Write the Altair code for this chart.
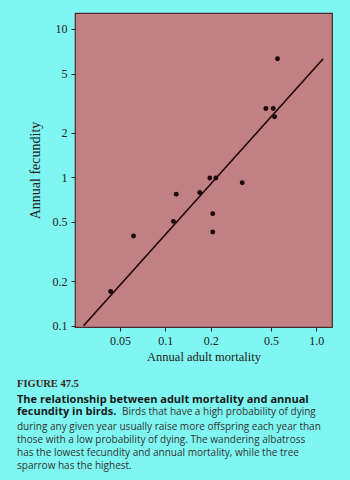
import altair as alt
import pandas as pd

# Data (log-log axes)
mortality = [0.553, 0.463, 0.518, 0.529, 0.197, 0.216, 0.323, 0.118, 0.169,
             0.206, 0.113, 0.0615, 0.206, 0.0434]
fecundity = [6.29, 2.91, 2.91, 2.56, 0.99, 0.99, 0.92, 0.77, 0.79,
             0.569, 0.505, 0.402, 0.428, 0.170]

fit_x = [0.0287, 1.11]
fit_y = [0.1, 6.29]

x_ticks = [0.05, 0.1, 0.2, 0.5, 1.0]
y_ticks = [0.1, 0.2, 0.5, 1, 2, 5, 10]

caption_head = "FIGURE 47.5"
caption_bold1 = "The relationship between adult mortality and annual"
caption_bold2 = "fecundity in birds."
caption_line2 = "Birds that have a high probability of dying"
caption_rest = ["during any given year usually raise more offspring each year than",
                "those with a low probability of dying. The wandering albatross",
                "has the lowest fecundity and annual mortality, while the tree",
                "sparrow has the highest."]

pts = pd.DataFrame({"mortality": mortality, "fecundity": fecundity})
fit = pd.DataFrame({"mortality": fit_x, "fecundity": fit_y})

SERIF = "Liberation Serif"
SANS = "Open Sans"

xscale = alt.Scale(type="log", domain=[0.0252, 1.27], nice=False)
yscale = alt.Scale(type="log", domain=[0.098, 12.8], nice=False)

xaxis = alt.Axis(values=x_ticks, title="Annual adult mortality",
                 labelExpr="datum.value == 1 ? '1.0' : format(datum.value, '~g')",
                 grid=False, tickSize=4, labelPadding=4, titlePadding=4,
                 domain=False, tickColor="#222", labelColor="#222",
                 titleColor="#222", labelFont=SERIF, titleFont=SERIF,
                 labelFontSize=12, titleFontSize=12.5, titleFontWeight="normal")
yaxis = alt.Axis(values=y_ticks, title="Annual fecundity",
                 labelExpr="format(datum.value, '~g')",
                 grid=False, tickSize=4, labelPadding=4, titlePadding=10,
                 domain=False, tickColor="#222", labelColor="#222",
                 titleColor="#222", labelFont=SERIF, titleFont=SERIF,
                 labelFontSize=12, titleFontSize=14, titleFontWeight="normal")

points = alt.Chart(pts).mark_circle(size=24, color="#1a0808", opacity=1).encode(
    x=alt.X("mortality:Q", scale=xscale, axis=xaxis),
    y=alt.Y("fecundity:Q", scale=yscale, axis=yaxis),
)

line = alt.Chart(fit).mark_line(color="#220606", strokeWidth=1.6).encode(
    x=alt.X("mortality:Q", scale=xscale),
    y=alt.Y("fecundity:Q", scale=yscale),
)

one = alt.Data(values=[{"a": 1}])

head = alt.Chart(one).mark_text(
    text=caption_head, font=SERIF, fontSize=10.5, fontWeight="bold",
    color="#3a2424", align="left", baseline="alphabetic"
).encode(x=alt.value(-58), y=alt.value(374.3))

bold1 = alt.Chart(one).mark_text(
    text=caption_bold1, font=SANS, fontSize=11, fontWeight="bold",
    color="#1a1a1a", align="left", baseline="alphabetic"
).encode(x=alt.value(-58), y=alt.value(389.8))

bold2 = alt.Chart(one).mark_text(
    text=caption_bold2, font=SANS, fontSize=11, fontWeight="bold",
    color="#1a1a1a", align="left", baseline="alphabetic"
).encode(x=alt.value(-58), y=alt.value(402.3))

l2 = alt.Chart(one).mark_text(
    text=caption_line2, font=SANS, fontSize=10,
    color="#333333", align="left", baseline="alphabetic"
).encode(x=alt.value(47), y=alt.value(402.3))

rest = alt.Chart(one).mark_text(
    text=caption_rest, font=SANS, fontSize=10,
    color="#333333", align="left", baseline="alphabetic", lineHeight=13
).encode(x=alt.value(-58), y=alt.value(417.0))

chart = alt.layer(line, points, head, bold1, bold2, l2, rest).properties(
    width=257, height=314,
    autosize=alt.AutoSizeParams(type="none"),
    padding={"left": 75, "top": 13, "right": 18, "bottom": 153},
    background="#7ff6f1",
).configure_view(
    fill="#c08084", stroke="#4a2a2c", strokeWidth=1.2
)

chart.save("out.html", embed_options={"renderer": "svg", "actions": False})
